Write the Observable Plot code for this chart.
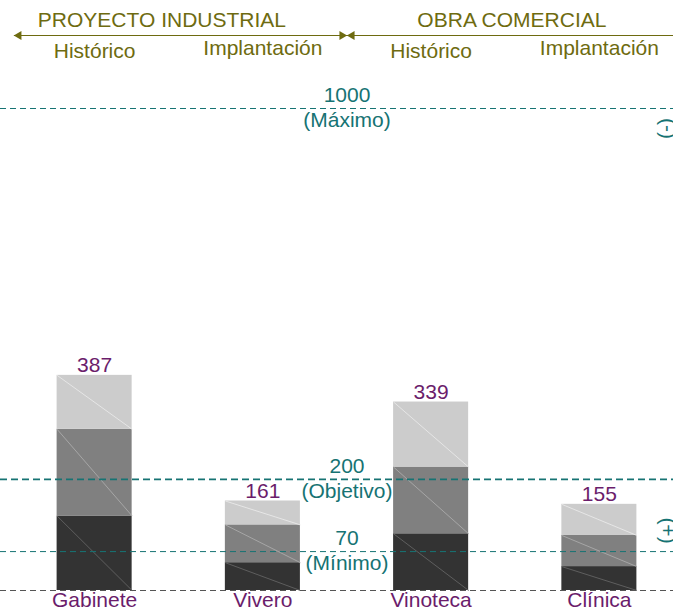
<!DOCTYPE html>
<html><head><meta charset="utf-8">
<script src="https://cdn.jsdelivr.net/npm/d3@7"></script>
<script src="https://cdn.jsdelivr.net/npm/@observablehq/plot@0.6"></script>
<style>
html,body{margin:0;padding:0;background:#fff;}
#chart svg{display:block;}
</style></head><body><div id="chart"></div>
<script>
// ---- data ----
const categories = ["Gabinete", "Vivero", "Vinoteca", "Clínica"];
const phases = ["Histórico", "Implantación", "Histórico", "Implantación"];
const groups = ["PROYECTO INDUSTRIAL", "OBRA COMERCIAL"];
const groupStart = [-0.48, 1.5];
const groupEnd = [1.5, 3.5];
const groupLabelAt = [0.4, 2.48];
const segDark = [134, 50, 102, 43];
const segMid = [156, 68, 120, 56];
const segLight = [97, 43, 117, 56];
const totals = [387, 161, 339, 155];
const refValues = [1000, 200, 70];
const refLabels = ["(Máximo)", "(Objetivo)", "(Mínimo)"];

// ---- styles ----
const olive = "#6e6b10", teal = "#167373", purple = "#6b1d6b";
const font = "'Liberation Sans', Arial, sans-serif";
const fs = 21;
const xScale = {domain: [-0.5, 3.5], range: [10, 683]};
const half = 0.223;

// ---- derived tables ----
const segNames = ["dark", "mid", "light"];
const segs = [segDark, segMid, segLight];
const rows = [];
categories.forEach((c, i) => {
  let cum = 0;
  segs.forEach((arr, s) => {
    rows.push({i, seg: segNames[s], y1: cum, y2: cum + arr[i]});
    cum += arr[i];
  });
});
const diagColor = {dark: "#5e5e5e", mid: "#a6a6a6", light: "#e6e6e6"};
const cats = categories.map((name, i) => ({i, name, total: totals[i]}));
const refs = refValues.map((v, k) => ({v, label: refLabels[k]}));
const groupRows = groups.map((name, k) => ({name, at: groupLabelAt[k], start: groupStart[k], end: groupEnd[k], row: "group", arow: "arrow"}));
const phaseRows = phases.map((name, i) => ({name, i, row: "phase"}));

const baseStyle = {fontFamily: font, fontSize: fs + "px", background: "white", overflow: "visible"};

const header = Plot.plot({
  width: 673, height: 70, margin: 0,
  style: baseStyle,
  x: {...xScale, axis: null},
  y: {type: "point", domain: ["group", "arrow", "phase"], range: [18.5, 51.5], padding: 0, axis: null},
  marks: [
    Plot.text(groupRows, {x: "at", y: "row", text: "name", fill: olive, fontSize: fs, dy: 1}),
    Plot.link(groupRows, {x1: "start", x2: "end", y1: "arow", y2: "arow", stroke: olive, strokeWidth: 1.2}),
    Plot.dot(groupRows, {x: "start", y: "arow", symbol: "triangle", r: 3.3, rotate: -90, fill: olive, stroke: null, dx: 5}),
    Plot.dot(groupRows, {x: "end", y: "arow", symbol: "triangle", r: 3.3, rotate: 90, fill: olive, stroke: null, dx: -5}),
    Plot.text(phaseRows.filter(d => d.i % 2 === 0), {x: "i", y: "row", text: "name", fill: olive, fontSize: fs}),
    Plot.text(phaseRows.filter(d => d.i % 2 === 1), {x: "i", y: "row", text: "name", fill: olive, fontSize: fs, dy: -3})
  ]
});

const main = Plot.plot({
  width: 673, height: 543, marginTop: 38, marginBottom: 23, marginLeft: 0, marginRight: 0,
  style: baseStyle,
  x: {...xScale, axis: null},
  y: {domain: [0, 867], clamp: true, axis: null},
  color: {domain: segNames, range: ["#333333", "#808080", "#cccccc"]},
  marks: [
    Plot.rectY(rows, {x1: d => d.i - half, x2: d => d.i + half, y1: "y1", y2: "y2", fill: "seg"}),
    Plot.link(rows, {x1: d => d.i - half, x2: d => d.i + half, y1: "y2", y2: "y1", stroke: d => diagColor[d.seg], strokeWidth: 1}),
    Plot.ruleY([0], {stroke: "#555", strokeWidth: 1, strokeDasharray: "6,4"}),
    Plot.ruleY(refs.filter(d => d.v !== 200), {y: "v", stroke: teal, strokeWidth: 1, strokeDasharray: "6,4"}),
    Plot.ruleY(refs.filter(d => d.v === 200), {y: "v", stroke: teal, strokeWidth: 1.8, strokeDasharray: "7,4"}),
    Plot.text(refs, {x: () => 1.5, y: "v", text: d => String(d.v), dy: -13, fill: teal, fontSize: fs}),
    Plot.text(refs, {x: () => 1.5, y: "v", text: "label", dy: 12, fill: teal, fontSize: fs}),
    Plot.text(cats, {x: "i", y: "total", text: d => String(d.total), dy: -10, fill: purple, fontSize: fs}),
    Plot.text(cats, {x: "i", text: "name", frameAnchor: "bottom", lineAnchor: "middle", dy: 10, fill: purple, fontSize: fs}),
    Plot.text(["(-)"], {frameAnchor: "top-right", dx: -6, dy: 20, rotate: 90, textAnchor: "middle", lineAnchor: "middle", fill: teal, fontSize: fs}),
    Plot.text(["(+)"], {frameAnchor: "bottom-right", dx: -6, dy: -60, rotate: 90, textAnchor: "middle", lineAnchor: "middle", fill: teal, fontSize: fs})
  ]
});

const el = document.getElementById("chart");
el.appendChild(header);
el.appendChild(main);
</script></body></html>
